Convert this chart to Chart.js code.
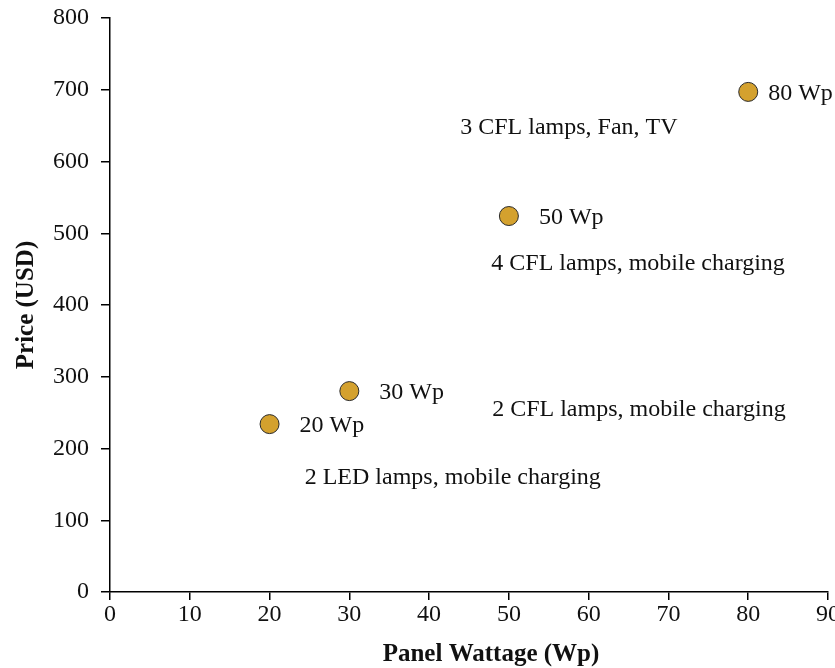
<!DOCTYPE html>
<html>
<head>
<meta charset="utf-8">
<script src="https://cdn.jsdelivr.net/npm/chart.js@4/dist/chart.umd.min.js"></script>
<style>
html,body{margin:0;padding:0;background:#fff;overflow:hidden;}
#wrap{width:840px;height:668px;position:relative;}
</style>
</head>
<body>
<div id="wrap"><canvas id="c"></canvas></div>
<script>
// Data
const wattage = [20, 30, 50, 80];
const price = [234, 280, 524, 697];
const pointLabels = ["20 Wp", "30 Wp", "50 Wp", "80 Wp"];
const noteTexts = ["3 CFL lamps, Fan, TV", "4 CFL lamps, mobile charging", "2 CFL lamps, mobile charging", "2 LED lamps, mobile charging"];
const noteX = [43.9, 47.8, 47.9, 24.4];
const noteY = [647, 458, 254, 159];
const xTicks = [0, 10, 20, 30, 40, 50, 60, 70, 80, 90];
const yTicks = [0, 100, 200, 300, 400, 500, 600, 700, 800];
const xTitle = 'Panel Wattage (Wp)';
const yTitle = 'Price (USD)';

const FONT = "'Liberation Serif', 'DejaVu Serif', serif";
const FS = 24;
const TFS = 25;

const labelPlugin = {
  id: 'labels',
  afterDatasetsDraw(chart) {
    const ctx = chart.ctx;
    const meta = chart.getDatasetMeta(0);
    const xs = chart.scales.x, ys = chart.scales.y;
    const ca = chart.chartArea;
    ctx.save();
    ctx.fillStyle = '#111';
    ctx.font = FS + "px " + FONT;
    ctx.textBaseline = 'middle';
    ctx.textAlign = 'left';
    meta.data.forEach((pt, i) => {
      const off = i === 3 ? 20 : 30;
      ctx.fillText(pointLabels[i], pt.x + off, pt.y + 2);
    });
    noteTexts.forEach((t, i) => {
      ctx.fillText(t, xs.getPixelForValue(noteX[i]), ys.getPixelForValue(noteY[i]));
    });
    // x axis title
    ctx.font = "bold " + TFS + "px " + FONT;
    ctx.textAlign = 'center';
    ctx.fillText(xTitle, (ca.left + ca.right) / 2 + 22, ca.bottom + 63);
    ctx.restore();
  }
};

new Chart(document.getElementById('c'), {
  type: 'scatter',
  data: {
    datasets: [{
      data: wattage.map((w, i) => ({x: w, y: price[i]})),
      backgroundColor: '#D4A12E',
      borderColor: '#2a2a2a',
      borderWidth: 1,
      pointRadius: 9.5,
      pointHoverRadius: 9.5
    }]
  },
  options: {
    responsive: true,
    maintainAspectRatio: false,
    animation: false,
    layout: {padding: {top: 18, right: 0, left: 0, bottom: 0}},
    plugins: {legend: {display: false}, tooltip: {enabled: false}},
    scales: {
      x: {
        type: 'linear', min: 0, max: 90,
        afterBuildTicks: s => { s.ticks = xTicks.map(v => ({value: v})); },
        afterFit: s => { s.height = 76; },
        grid: {display: true, drawOnChartArea: false, drawTicks: true, tickLength: 8, color: '#000', lineWidth: 1.5},
        border: {display: true, color: '#000', width: 1.5},
        ticks: {color: '#111', font: {family: FONT, size: FS}, padding: 0, maxRotation: 0, autoSkip: false},
        title: {display: false, text: xTitle}
      },
      y: {
        type: 'linear', min: 0, max: 800,
        afterBuildTicks: s => { s.ticks = yTicks.map(v => ({value: v})); },
        afterFit: s => { s.width = 110; s.paddingTop = 0; s.paddingBottom = 0; },
        grid: {display: true, drawOnChartArea: false, drawTicks: true, tickLength: 9, color: '#000', lineWidth: 1.5},
        border: {display: true, color: '#000', width: 1.5},
        ticks: {color: '#111', font: {family: FONT, size: FS}, padding: 12, autoSkip: false},
        title: {display: true, text: yTitle, color: '#111', font: {family: FONT, size: TFS, weight: 'bold'}, padding: {top: 12, bottom: 0}}
      }
    }
  },
  plugins: [labelPlugin]
});
</script>
</body>
</html>
